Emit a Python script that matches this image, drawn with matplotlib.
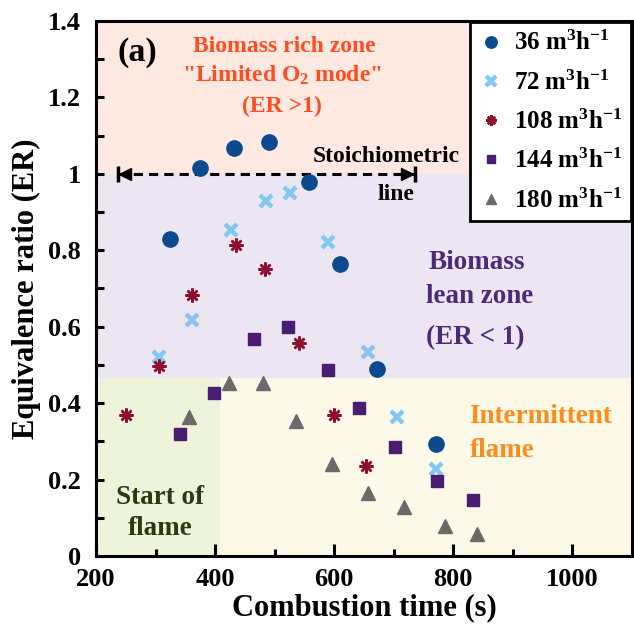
import numpy as np
import matplotlib
matplotlib.use("Agg")
import matplotlib.pyplot as plt

plt.rcParams['font.family'] = ['Liberation Serif', 'DejaVu Serif']
plt.rcParams['font.weight'] = 'bold'
plt.rcParams['mathtext.fontset'] = 'custom'
plt.rcParams['mathtext.rm'] = 'Liberation Serif:bold'
plt.rcParams['mathtext.it'] = 'Liberation Serif:bold'
plt.rcParams['mathtext.bf'] = 'Liberation Serif:bold'

# data: combustion time (s) and equivalence ratio
t36 = [325, 375, 431, 490, 557, 610, 672, 771]
er36 = [0.83, 1.016, 1.067, 1.084, 0.978, 0.765, 0.489, 0.294]
t72 = [306, 361, 427, 485, 526, 589, 657, 706, 771]
er72 = [0.522, 0.618, 0.852, 0.930, 0.950, 0.822, 0.535, 0.365, 0.227]
t108 = [250, 306, 361, 435, 483, 541, 599, 653]
er108 = [0.368, 0.496, 0.683, 0.813, 0.752, 0.558, 0.368, 0.236]
t144 = [341, 399, 465, 522, 589, 641, 702, 773, 833]
er144 = [0.319, 0.426, 0.567, 0.598, 0.487, 0.386, 0.286, 0.196, 0.146]
t180 = [357, 424, 480, 536, 597, 656, 718, 786, 839]
er180 = [0.363, 0.452, 0.452, 0.354, 0.242, 0.166, 0.128, 0.079, 0.057]

labels = [r'36 m$^{3}$h$^{-1}$', r'72 m$^{3}$h$^{-1}$', r'108 m$^{3}$h$^{-1}$',
          r'144 m$^{3}$h$^{-1}$', r'180 m$^{3}$h$^{-1}$']

# zone limits
lean_low = 0.465
flame_start = 408
stoich_from, stoich_to = 237, 735

fig = plt.figure(figsize=(6.34, 6.29), dpi=100)
ax = fig.add_axes([0.1514, 0.1161, 0.8454, 0.8505])
ax.set_xlim(200, 1100)
ax.set_ylim(0, 1.4)

# background zones
ax.axhspan(1.0, 1.4, color='#fde9e1', zorder=0, lw=0)
ax.axhspan(lean_low, 1.0, color='#ebe6f1', zorder=0, lw=0)
ax.fill_between([200, flame_start], 0, lean_low, color='#eef4da', zorder=0, lw=0)
ax.fill_between([flame_start, 1100], 0, lean_low, color='#fdf9e8', zorder=0, lw=0)

# stoichiometric line with end stops
ax.plot([stoich_from, stoich_to], [1, 1], ls=(0, (3, 2)), color='black', lw=2.2, zorder=2)
ax.plot([stoich_from + 12], [1], marker='<', color='black', ms=8, zorder=2)
ax.plot([stoich_from], [1], marker='|', color='black', ms=12, mew=2.5, zorder=2)
ax.plot([stoich_to - 12], [1], marker='>', color='black', ms=8, zorder=2)
ax.plot([stoich_to], [1], marker='|', color='black', ms=12, mew=2.5, zorder=2)

ax.plot(t36, er36, 'o', color='#0b4a8c', ms=11, ls='none', label=labels[0], zorder=3)
ax.plot(t72, er72, 'x', color='#82c8f5', ms=9, mew=3.2, ls='none', label=labels[1], zorder=3)
ax.plot(t108, er108, marker=(8, 2, 0), color='#8c0f2e', ms=10, mew=1.8, ls='none', label=labels[2], zorder=3)
ax.plot(t144, er144, 's', color='#4a1c72', ms=8.5, ls='none', label=labels[3], zorder=3)
ax.plot(t180, er180, '^', color='#6a6a6a', ms=9.5, ls='none', label=labels[4], zorder=3)

# zone annotations
ax.text(269, 1.317, '(a)', fontsize=24.5, ha='center', va='center')
ax.text(517, 1.333, 'Biomass rich zone', color='#ff4d1f', fontsize=17, ha='center', va='center')
ax.text(513, 1.259, '"Limited O$_2$ mode"', color='#ff4d1f', fontsize=17, ha='center', va='center')
ax.text(512, 1.176, '(ER >1)', color='#ff4d1f', fontsize=17, ha='center', va='center')
ax.text(687, 1.045, 'Stoichiometric', fontsize=17, ha='center', va='center')
ax.text(704, 0.945, 'line', fontsize=17, ha='center', va='center')
ax.text(840, 0.767, 'Biomass', color='#4b2a7a', fontsize=19.5, ha='center', va='center')
ax.text(845, 0.678, 'lean zone', color='#4b2a7a', fontsize=19.5, ha='center', va='center')
ax.text(837, 0.571, '(ER < 1)', color='#4b2a7a', fontsize=19.5, ha='center', va='center')
ax.text(827, 0.364, 'Intermittent', color='#ff8c1a', fontsize=19.5, ha='left', va='center')
ax.text(827, 0.277, 'flame', color='#ff8c1a', fontsize=19.5, ha='left', va='center')
ax.text(307, 0.154, 'Start of', color='#2e3a0e', fontsize=19.5, ha='center', va='center')
ax.text(307, 0.073, 'flame', color='#2e3a0e', fontsize=19.5, ha='center', va='center')

ax.set_xticks([200, 400, 600, 800, 1000])
ax.set_xticks([300, 500, 700, 900], minor=True)
ax.set_yticks([0, 0.2, 0.4, 0.6, 0.8, 1.0, 1.2, 1.4])
ax.set_yticklabels(['0', '0.2', '0.4', '0.6', '0.8', '1', '1.2', '1.4'])
ax.set_yticks(np.arange(0.1, 1.4, 0.2), minor=True)
ax.tick_params(axis='both', which='both', direction='in', width=2.2, labelsize=19)
ax.tick_params(axis='x', which='major', length=9, pad=9)
ax.tick_params(axis='x', which='minor', length=5)
ax.tick_params(axis='y', which='both', length=6, pad=11)
for s in ax.spines.values():
    s.set_linewidth(2.2)

ax.set_xlabel('Combustion time (s)', fontsize=22, fontweight='bold', labelpad=1)
ax.set_ylabel('Equivalence ratio (ER)', fontsize=22, fontweight='bold', labelpad=5)

leg = ax.legend(loc='upper right', fontsize=18, frameon=True, fancybox=False,
                markerscale=0.75, handletextpad=0.4, borderaxespad=0.05,
                labelspacing=0.6, handlelength=1.0, borderpad=0.35)
leg.get_frame().set_edgecolor('black')
leg.get_frame().set_linewidth(2)
leg.get_frame().set_alpha(1)

fig.savefig('out.png', dpi=100)
